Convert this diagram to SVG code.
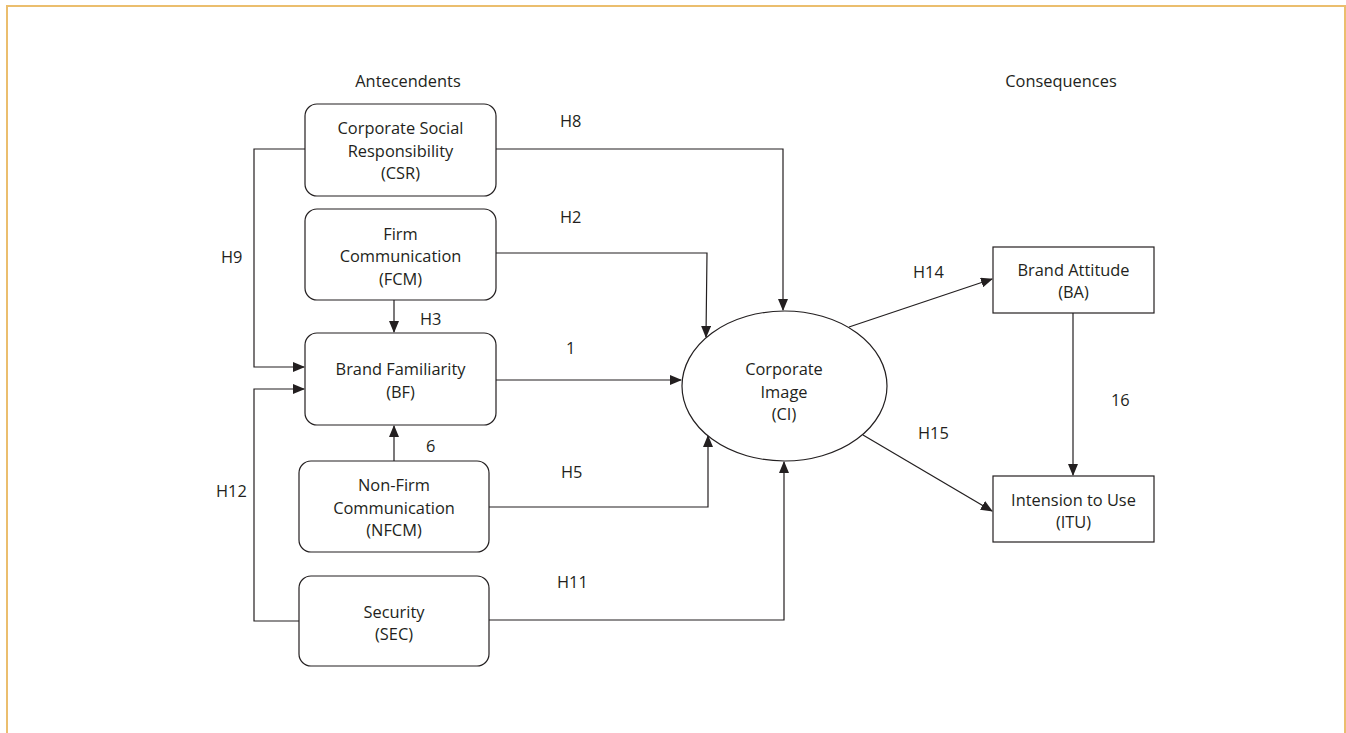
<svg xmlns="http://www.w3.org/2000/svg" width="1346" height="733" viewBox="0 0 1346 733">
<defs>
<marker id="arr" markerWidth="12" markerHeight="10" refX="11" refY="5" orient="auto" markerUnits="userSpaceOnUse">
<path d="M0,0 L12,5 L0,10 Z" fill="#231f20"/>
</marker>
<style>
text{font-family:"Open Sans","Noto Sans",sans-serif;font-size:16.4px;fill:#231f20;text-anchor:middle}
.lbl{text-anchor:start}
.box{fill:#fff;stroke:#231f20;stroke-width:1.2}
.con{fill:none;stroke:#231f20;stroke-width:1.2}
</style>
</defs>
<rect width="1346" height="733" fill="#fff"/>
<path d="M7,740 L7,6 L1345,6 L1345,740" fill="none" stroke="#ebbe6e" stroke-width="2"/>

<text x="408" y="87">Antecendents</text>
<text x="1061" y="87">Consequences</text>

<g id="connectors">
<path class="con" d="M305,149 H254 V367 H304" marker-end="url(#arr)"/>
<path class="con" d="M299,621 H254 V389 H304" marker-end="url(#arr)"/>
<path class="con" d="M394,300 V332" marker-end="url(#arr)"/>
<path class="con" d="M394,461 V426" marker-end="url(#arr)"/>
<path class="con" d="M496,149 H783 V310" marker-end="url(#arr)"/>
<path class="con" d="M496,253 H707 L706,337" marker-end="url(#arr)"/>
<path class="con" d="M496,380 H681" marker-end="url(#arr)"/>
<path class="con" d="M489,507 H708 V436" marker-end="url(#arr)"/>
<path class="con" d="M489,620 H784 V462" marker-end="url(#arr)"/>
<path class="con" d="M849,327 L992,279" marker-end="url(#arr)"/>
<path class="con" d="M863,435 L992,511" marker-end="url(#arr)"/>
<path class="con" d="M1073,313 V475" marker-end="url(#arr)"/>
<text class="lbl" x="560" y="127">H8</text>
<text class="lbl" x="560" y="223">H2</text>
<text class="lbl" x="221" y="263">H9</text>
<text class="lbl" x="420" y="325">H3</text>
<text class="lbl" x="566" y="354">1</text>
<text class="lbl" x="426" y="452">6</text>
<text class="lbl" x="561" y="478">H5</text>
<text class="lbl" x="216" y="497">H12</text>
<text class="lbl" x="557" y="588">H11</text>
<text class="lbl" x="913" y="278">H14</text>
<text class="lbl" x="918" y="439">H15</text>
<text class="lbl" x="1111" y="406">16</text>
</g>

<g id="csr">
<rect class="box" x="305" y="104" width="191" height="92" rx="12"/>
<text x="400.5" y="134">Corporate Social</text>
<text x="400.5" y="156.5">Responsibility</text>
<text x="400.5" y="179">(CSR)</text>
</g>
<g id="fcm">
<rect class="box" x="305" y="209" width="191" height="91" rx="12"/>
<text x="400.5" y="239.5">Firm</text>
<text x="400.5" y="262">Communication</text>
<text x="400.5" y="284.5">(FCM)</text>
</g>
<g id="bf">
<rect class="box" x="305" y="333" width="191" height="92" rx="12"/>
<text x="400.5" y="375.25">Brand Familiarity</text>
<text x="400.5" y="397.75">(BF)</text>
</g>
<g id="nfcm">
<rect class="box" x="299" y="461" width="190" height="91" rx="12"/>
<text x="394" y="491">Non-Firm</text>
<text x="394" y="513.5">Communication</text>
<text x="394" y="536">(NFCM)</text>
</g>
<g id="sec">
<rect class="box" x="299" y="576" width="190" height="90" rx="12"/>
<text x="394" y="617.75">Security</text>
<text x="394" y="640.25">(SEC)</text>
</g>
<g id="ci">
<ellipse class="box" cx="784.5" cy="386" rx="102.5" ry="75"/>
<text x="784" y="375">Corporate</text>
<text x="784" y="397.5">Image</text>
<text x="784" y="420">(CI)</text>
</g>
<g id="ba">
<rect class="box" x="993" y="247" width="161" height="66"/>
<text x="1073.5" y="275.75">Brand Attitude</text>
<text x="1073.5" y="298.25">(BA)</text>
</g>
<g id="itu">
<rect class="box" x="993" y="476" width="161" height="66"/>
<text x="1073.5" y="505.75">Intension to Use</text>
<text x="1073.5" y="528.25">(ITU)</text>
</g>
</svg>
